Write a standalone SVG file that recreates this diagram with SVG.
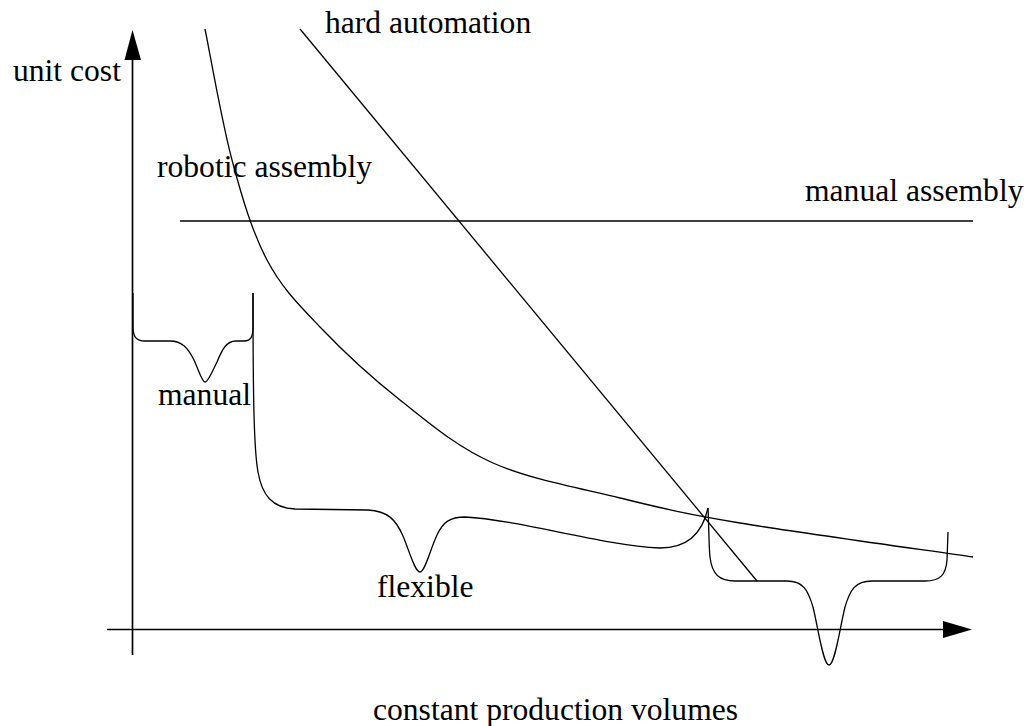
<svg xmlns="http://www.w3.org/2000/svg" width="1031" height="726" viewBox="0 0 1031 726">
  <style>
    .axis { fill: none; stroke: #000; stroke-width: 1.7; }
    .curve { fill: none; stroke: #000; stroke-width: 1.3; stroke-linejoin: round; }
    .head { fill: #000; stroke: none; }
    text { font-family: "Liberation Serif", "Times New Roman", serif; font-size: 31.6px; fill: #000; }
  </style>
  <rect width="1031" height="726" fill="#fff"/>

  <!-- axes -->
  <g id="axes">
    <line class="axis" x1="132.5" y1="655" x2="132.5" y2="58"/>
    <polygon class="head" points="124.5,60 132.5,30 141,60"/>
    <line class="axis" x1="107" y1="629.5" x2="945" y2="629.5"/>
    <polygon class="head" points="943,621 972,629.5 943,638"/>
    <text x="13" y="81">unit cost</text>
    <text x="373" y="720">constant production volumes</text>
  </g>

  <g id="connectors">
    <!-- manual assembly: constant unit cost -->
    <g id="manual-assembly">
      <line class="curve" x1="180" y1="221" x2="973" y2="221"/>
      <text x="805" y="201">manual assembly</text>
    </g>

    <!-- hard automation: falling straight line -->
    <g id="hard-automation">
      <line class="curve" x1="300" y1="29" x2="757" y2="581"/>
      <text x="325" y="33">hard automation</text>
    </g>

    <!-- robotic assembly: hyperbolic cost curve -->
    <g id="robotic-assembly">
      <path class="curve" d="M205,29 C209.5,50.8 221.7,121.5 232,160 C242.3,198.5 252.3,232.2 267,260 C281.7,287.8 297.8,303.7 320,327 C342.2,350.3 371.2,377.3 400,400 C428.8,422.7 456.3,446.7 493,463 C529.7,479.3 578.8,488 620,498 C661.2,508 681.2,513.2 740,523 C798.8,532.8 934.2,551.3 973,557"/>
      <text x="157" y="177">robotic assembly</text>
    </g>
  </g>

  <!-- volume ranges drawn as braces -->
  <g id="manual">
    <path class="curve" d="M133,293 L133,326 C133,337 136,341 145,341 L170,341 C182,341 188,348 194,360 C199,371 202,382 205,382 C208,382 212,372 217,362 C222,350 226,341 236,341 L244,341 C251,341 253,337 253,326 L253,293"/>
    <text x="158" y="405">manual</text>
  </g>

  <g id="flexible">
    <path class="curve" d="M253,293 C253,400 254,450 258,472 C262,495 272,508 295,509 L368,510 C388,511 396,520 403,536 C410,553 415,572 420,572 C425,572 430,550 437,535 C443,522 450,517 465,517 C520,520 600,545 660,548 C685,548 702,535 708,508"/>
    <text x="377" y="597">flexible</text>
  </g>

  <g id="automated">
    <path class="curve" d="M708,508 C709,530 709,550 710,557 C712,575 720,581 735,581 L787,581 C803,581 808,590 813,607 C818,627 823,665 829,665 C835,665 840,627 845,607 C850,590 855,581 872,581 L925,581 C940,581 946,575 947,560 L948,532"/>
  </g>
</svg>
